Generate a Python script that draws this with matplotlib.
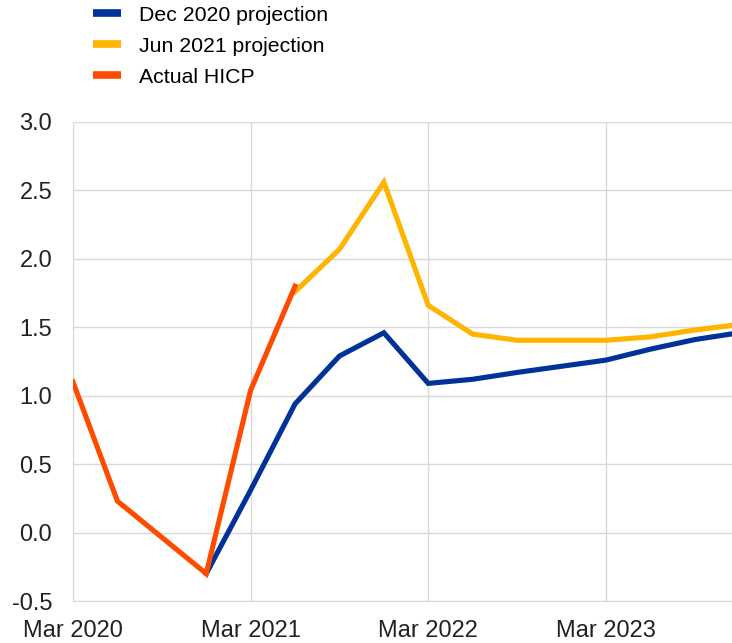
import numpy as np
import matplotlib.pyplot as plt

plt.rcParams['font.family'] = ['Liberation Sans', 'DejaVu Sans']

# quarters counted from Mar 2020 (index 0)
hicp_q = [0, 1, 3, 4, 5]
hicp = [1.10, 0.23, -0.30, 1.04, 1.80]

dec20_q = [3, 4, 5, 6, 7, 8, 9, 10, 11, 12, 13, 14, 15]
dec20 = [-0.30, 0.31, 0.94, 1.29, 1.46, 1.09, 1.12, 1.17, 1.215, 1.26, 1.34, 1.41, 1.46]

jun21_q = [5, 6, 7, 8, 9, 10, 11, 12, 13, 14, 15]
jun21 = [1.76, 2.07, 2.56, 1.66, 1.45, 1.405, 1.405, 1.405, 1.43, 1.48, 1.52]

tick_q = [0, 4, 8, 12]
tick_labels = ['Mar 2020', 'Mar 2021', 'Mar 2022', 'Mar 2023']

blue = '#003299'
yellow = '#ffb400'
orange = '#ff4b00'

fig = plt.figure(figsize=(7.32, 6.43), dpi=100)
ax = fig.add_axes([73/732, 42/643, 659/732, 479/643])

l1, = ax.plot(dec20_q, dec20, color=blue, lw=3.7, solid_joinstyle='miter', zorder=3)
l2, = ax.plot(jun21_q, jun21, color=yellow, lw=3.7, solid_joinstyle='miter', zorder=4)
l3, = ax.plot(hicp_q, hicp, color=orange, lw=3.7, solid_joinstyle='miter', zorder=5)

yt = np.arange(-0.5, 3.01, 0.5)
ax.set_xlim(0, 14.84)
ax.set_ylim(-0.5, 3.0)
ax.set_yticks(yt)
ax.set_yticklabels([f'{v:.1f}' for v in yt])
ax.set_xticks(tick_q)
ax.set_xticklabels(tick_labels)
ax.tick_params(length=0, labelsize=17, colors='#222222')
ax.tick_params(axis='y', pad=15)
ax.tick_params(axis='x', pad=14)
ax.grid(True, color='#d9d9d9', lw=1)
ax.set_axisbelow(True)
for s in ['top', 'right']:
    ax.spines[s].set_visible(False)
ax.spines['left'].set_color('#d9d9d9')
ax.spines['bottom'].set_color('#d9d9d9')

leg = fig.legend([l1, l2, l3], ['Dec 2020 projection', 'Jun 2021 projection', 'Actual HICP'],
                 loc='upper left', bbox_to_anchor=(93/732, 0.991), frameon=False,
                 fontsize=15.3, handlelength=1.32, handletextpad=0.85, labelspacing=0.56,
                 borderpad=0, borderaxespad=0)
for h in leg.get_lines():
    h.set_linewidth(5.5)
    h.set_solid_capstyle('butt')

fig.savefig('out.png', dpi=100)
